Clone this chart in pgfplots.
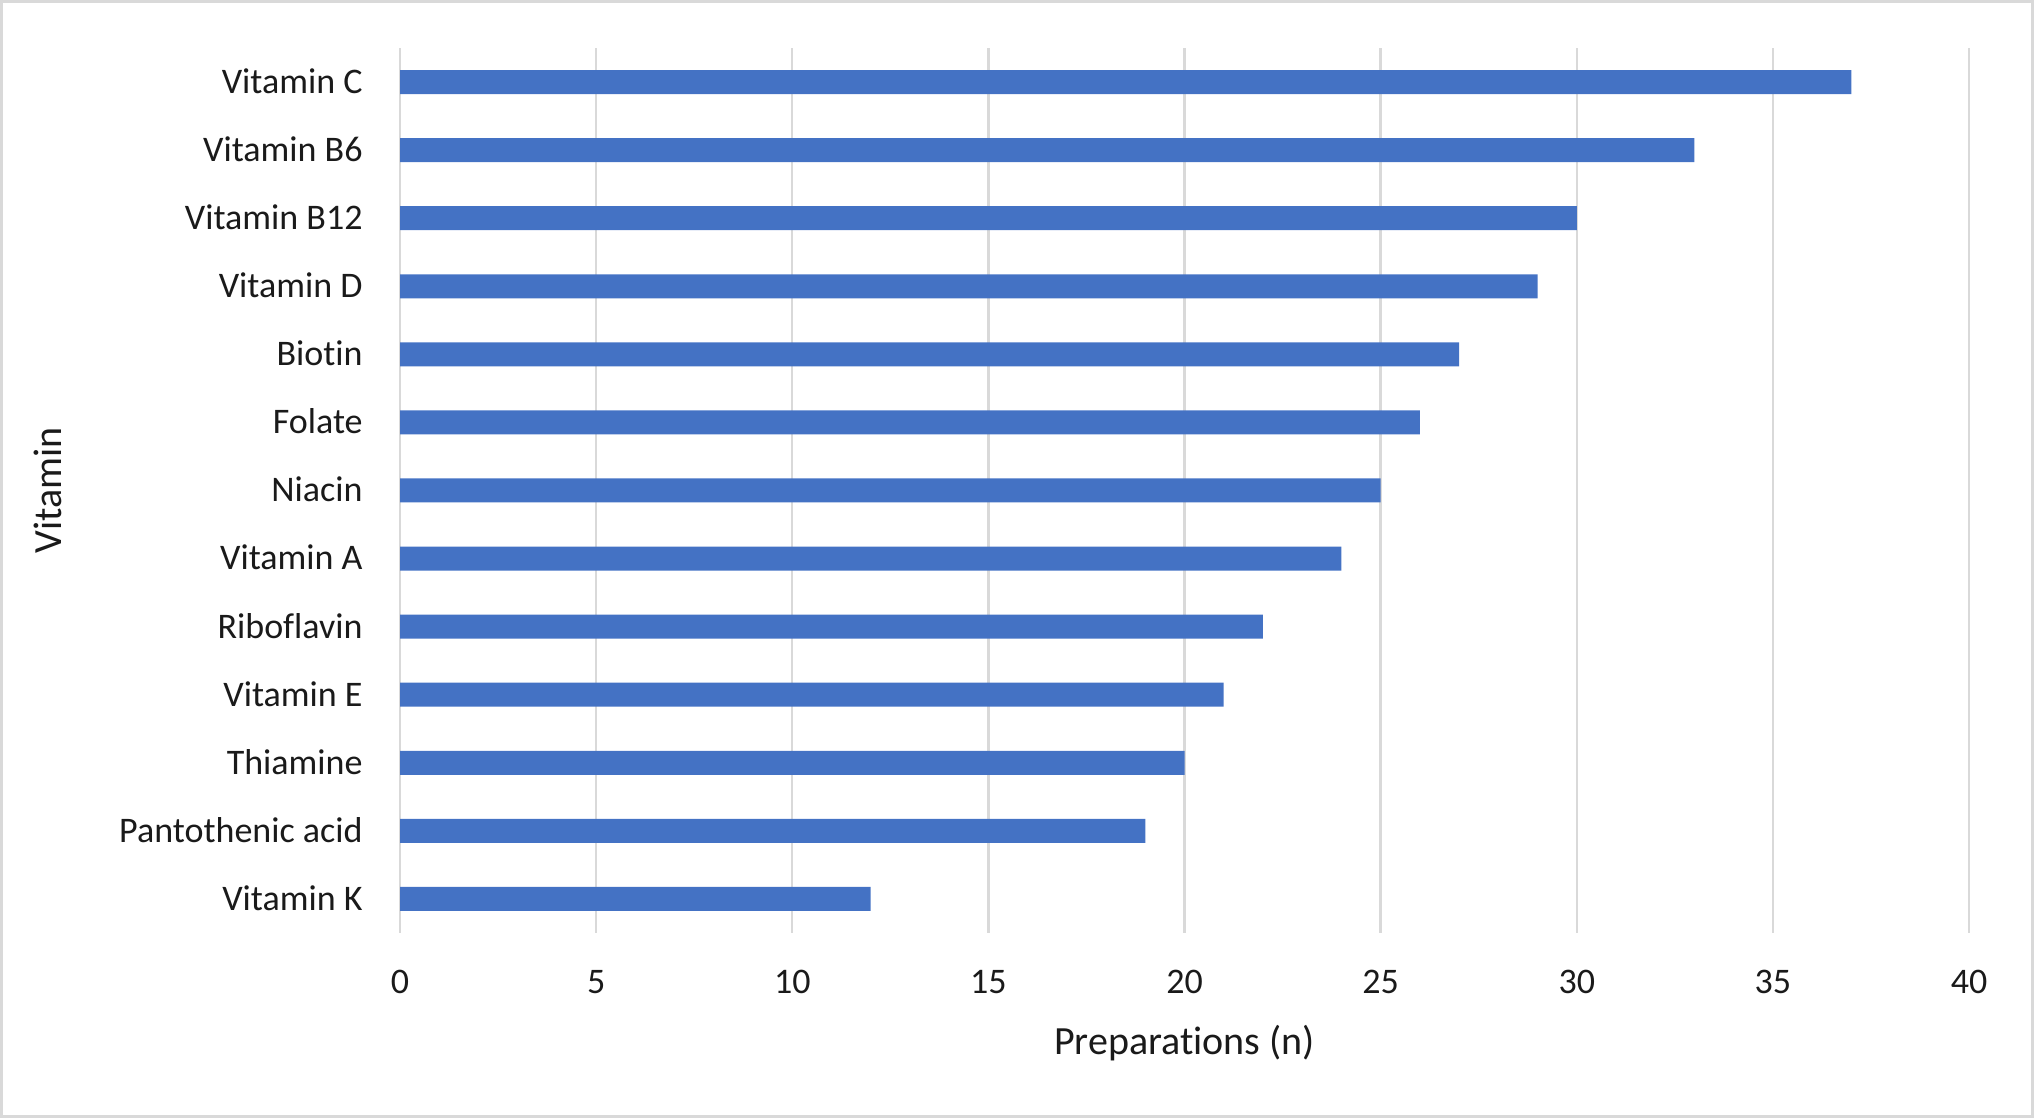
\documentclass[border=0pt]{standalone}
\usepackage{pgfplots}
\pgfplotsset{compat=1.18}
\usepackage{fontspec}
\setmainfont{Carlito}[Ligatures=NoCommon]
\definecolor{barblue}{HTML}{4472C4}
\definecolor{gridgray}{HTML}{D9D9D9}
\definecolor{txt}{HTML}{1A1A1A}
\begin{document}
\begin{tikzpicture}
\useasboundingbox (0,0) rectangle (1017pt,559pt);
\draw[gridgray, line width=1.5pt] (0.75pt,0.75pt) rectangle (1016.25pt,558.25pt);
\begin{axis}[
  at={(200pt,92.5pt)}, anchor=south west,
  scale only axis, width=784.5pt, height=442.5pt,
  xmin=0, xmax=40, xtick={0,5,...,40},
  ymin=-0.5, ymax=12.5, ytick={0,...,12},
  yticklabels={Vitamin K, Pantothenic acid, Thiamine, Vitamin E, Riboflavin, Vitamin A, Niacin, Folate, Biotin, Vitamin D, Vitamin B12, Vitamin B6, Vitamin C},
  axis line style={draw=none},
  major tick length=0pt,
  xmajorgrids, ymajorgrids=false,
  major grid style={gridgray, line width=1.2pt},
  tick label style={font=\fontsize{18}{22}\selectfont, text=txt},
  xticklabel style={anchor=center, yshift=-24.5pt},
  yticklabel style={anchor=base east, inner sep=0pt, xshift=-18.5pt, yshift=-5.7pt},
  /pgf/number format/assume math mode=true,
  xlabel={Preparations (n)}, ylabel={Vitamin},
  label style={font=\fontsize{20}{24}\selectfont, text=txt},
  xlabel style={at={(axis description cs:0.5,-0.1375)}, anchor=base},
  ylabel style={at={(axis description cs:-0.2155,0.5)}, anchor=base},
  xbar, bar width=12pt,
]
\addplot[fill=barblue, draw=none] coordinates {
(12,0) (19,1) (20,2) (21,3) (22,4) (24,5) (25,6) (26,7) (27,8) (29,9) (30,10) (33,11) (37,12)
};
\end{axis}
\end{tikzpicture}
\end{document}
